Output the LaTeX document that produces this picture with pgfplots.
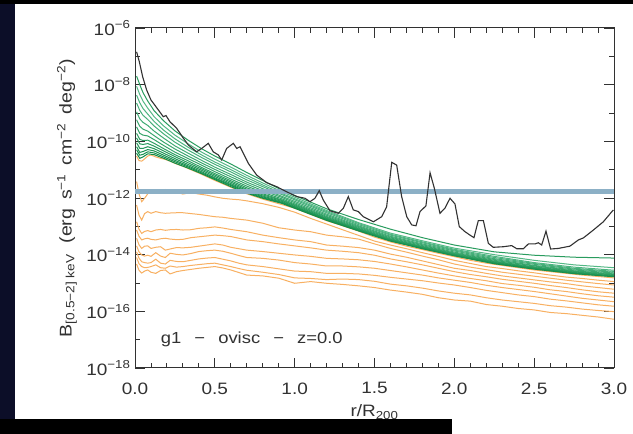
\documentclass[border=0pt]{standalone}
\usepackage{pgfplots}
\pgfplotsset{compat=1.18}
\usepackage{pgfplotstable}
\usepackage{fontspec}
\setmainfont{Liberation Sans}[FakeStretch=1.15]
\definecolor{orng}{RGB}{248,176,98}
\definecolor{gA}{RGB}{95,192,145}
\definecolor{gB}{RGB}{18,140,72}
\definecolor{band}{RGB}{140,176,198}
\definecolor{blk}{RGB}{50,50,50}
\definecolor{navy}{RGB}{12,14,40}

% green curves (log10 of brightness)
\pgfplotstableread{
x    g1     g2     g3     g4     g5     g6     g7     g8     g9     g10    g11    g12    g13
0.01 -7.70  -8.06  -8.37  -8.65  -8.96  -9.24  -9.49  -9.72  -9.88  -10.05 -10.19 -10.30 -10.42
0.03 -8.00  -8.35  -8.64  -8.91  -9.21  -9.47  -9.72  -9.93  -10.09 -10.25 -10.39 -10.49 -10.60
0.05 -8.28  -8.58  -8.84  -9.08  -9.33  -9.57  -9.78  -9.97  -10.11 -10.25 -10.36 -10.46 -10.55
0.08 -8.58  -8.83  -9.04  -9.23  -9.44  -9.64  -9.81  -9.96  -10.08 -10.19 -10.29 -10.37 -10.44
0.12 -8.92  -9.13  -9.30  -9.46  -9.64  -9.80  -9.94  -10.07 -10.17 -10.26 -10.34 -10.41 -10.47
0.18 -9.28  -9.46  -9.61  -9.74  -9.89  -10.03 -10.15 -10.26 -10.34 -10.42 -10.49 -10.55 -10.60
0.25 -9.63  -9.78  -9.91  -10.03 -10.16 -10.27 -10.38 -10.47 -10.54 -10.61 -10.67 -10.72 -10.77
0.33 -9.95  -10.08 -10.20 -10.30 -10.41 -10.51 -10.60 -10.68 -10.75 -10.81 -10.86 -10.90 -10.94
0.42 -10.27 -10.39 -10.49 -10.58 -10.68 -10.77 -10.85 -10.93 -10.98 -11.03 -11.08 -11.12 -11.15
0.50 -10.52 -10.63 -10.73 -10.81 -10.91 -10.99 -11.07 -11.14 -11.19 -11.24 -11.29 -11.32 -11.35
0.60 -10.80 -10.91 -11.00 -11.08 -11.17 -11.25 -11.33 -11.39 -11.44 -11.49 -11.53 -11.56 -11.60
0.70 -11.10 -11.20 -11.28 -11.36 -11.44 -11.51 -11.58 -11.64 -11.69 -11.73 -11.77 -11.80 -11.83
0.80 -11.38 -11.47 -11.54 -11.60 -11.67 -11.74 -11.80 -11.85 -11.89 -11.93 -11.96 -11.99 -12.01
0.92 -11.72 -11.78 -11.84 -11.88 -11.94 -11.98 -12.03 -12.07 -12.09 -12.12 -12.15 -12.17 -12.19
1.05 -12.03 -12.09 -12.14 -12.18 -12.23 -12.28 -12.32 -12.35 -12.38 -12.41 -12.43 -12.45 -12.47
1.20 -12.38 -12.44 -12.48 -12.52 -12.57 -12.61 -12.65 -12.68 -12.71 -12.73 -12.75 -12.77 -12.79
1.40 -12.76 -12.87 -12.90 -12.94 -12.98 -13.01 -13.04 -13.07 -13.09 -13.11 -13.13 -13.15 -13.16
1.60 -13.10 -13.24 -13.28 -13.31 -13.35 -13.38 -13.41 -13.44 -13.46 -13.48 -13.49 -13.51 -13.52
1.80 -13.40 -13.51 -13.55 -13.58 -13.62 -13.65 -13.68 -13.71 -13.73 -13.75 -13.76 -13.78 -13.79
2.00 -13.66 -13.77 -13.81 -13.84 -13.87 -13.91 -13.94 -13.96 -13.98 -14.00 -14.02 -14.03 -14.04
2.25 -13.90 -14.00 -14.06 -14.10 -14.14 -14.17 -14.20 -14.23 -14.25 -14.27 -14.29 -14.31 -14.32
2.50 -14.02 -14.20 -14.28 -14.31 -14.34 -14.38 -14.40 -14.43 -14.45 -14.47 -14.48 -14.50 -14.51
2.75 -14.09 -14.36 -14.44 -14.48 -14.51 -14.54 -14.57 -14.59 -14.61 -14.63 -14.65 -14.66 -14.67
3.00 -14.12 -14.46 -14.55 -14.59 -14.62 -14.65 -14.68 -14.70 -14.72 -14.74 -14.76 -14.77 -14.78
}\greentab

% orange curves (log10 of brightness)
\pgfplotstableread{
x     o1     o2     o3     o4     o5     o6     o7     o8     o9     o10
0.010 -10.52 -11.42 -12.25 -12.84 -13.13 -13.42 -13.69 -13.90 -14.10 -14.33
0.025 -10.68 -11.85 -12.60 -13.10 -13.35 -13.65 -13.90 -14.12 -14.32 -14.55
0.042 -10.70 -12.13 -12.78 -13.25 -13.48 -13.78 -14.01 -14.25 -14.42 -14.65
0.060 -10.62 -12.01 -12.55 -13.18 -13.44 -13.70 -14.05 -14.28 -14.46 -14.58
0.080 -10.52 -11.85 -12.48 -13.15 -13.42 -13.69 -14.02 -14.30 -14.45 -14.54
0.100 -10.48 -11.74 -12.54 -13.19 -13.46 -13.78 -14.06 -14.28 -14.42 -14.62
0.130 -10.55 -11.78 -12.48 -13.13 -13.48 -13.74 -13.93 -14.16 -14.36 -14.66
0.160 -10.60 -11.72 -12.52 -13.11 -13.44 -13.72 -14.05 -14.30 -14.46 -14.56
0.190 -10.64 -11.70 -12.54 -13.14 -13.42 -13.84 -14.10 -14.33 -14.48 -14.54
0.220 -10.70 -11.74 -12.53 -13.12 -13.45 -13.80 -13.95 -14.20 -14.40 -14.68
0.260 -10.80 -11.80 -12.52 -13.11 -13.47 -13.75 -13.99 -14.24 -14.44 -14.60
0.300 -10.88 -11.86 -12.52 -13.13 -13.46 -13.76 -14.01 -14.25 -14.42 -14.56
0.350 -11.00 -11.81 -12.55 -13.12 -13.40 -13.74 -13.96 -14.20 -14.38 -14.52
0.400 -11.12 -11.86 -12.58 -13.07 -13.37 -13.70 -13.89 -14.15 -14.35 -14.48
0.450 -11.25 -11.90 -12.62 -13.05 -13.34 -13.66 -13.86 -14.12 -14.32 -14.45
0.500 -11.38 -11.96 -12.66 -13.02 -13.31 -13.62 -13.84 -14.10 -14.30 -14.42
0.550 -11.50 -12.01 -12.68 -13.06 -13.33 -13.66 -13.88 -14.16 -14.36 -14.47
0.600 -11.62 -12.04 -12.72 -13.11 -13.36 -13.74 -13.95 -14.22 -14.42 -14.54
0.650 -11.74 -12.06 -12.75 -13.15 -13.42 -13.79 -14.03 -14.30 -14.49 -14.63
0.700 -11.85 -12.10 -12.78 -13.19 -13.48 -13.84 -14.10 -14.36 -14.55 -14.72
0.800 -12.04 -12.20 -12.89 -13.31 -13.54 -13.89 -14.13 -14.42 -14.62 -14.75
0.900 -12.20 -12.33 -13.05 -13.40 -13.62 -13.95 -14.19 -14.50 -14.70 -14.83
1.000 -12.36 -12.50 -13.13 -13.48 -13.69 -14.01 -14.28 -14.58 -14.82 -15.01
1.100 -12.58 -12.72 -13.19 -13.54 -13.76 -14.06 -14.33 -14.60 -14.84 -14.95
1.200 -12.80 -12.92 -13.31 -13.66 -13.84 -14.13 -14.40 -14.66 -14.88 -15.01
1.300 -12.98 -13.12 -13.37 -13.70 -13.88 -14.15 -14.40 -14.66 -14.86 -15.05
1.400 -13.17 -13.32 -13.45 -13.75 -13.93 -14.18 -14.43 -14.68 -14.88 -15.10
1.500 -13.38 -13.52 -13.62 -13.84 -14.02 -14.24 -14.48 -14.73 -14.94 -15.16
1.600 -13.55 -13.66 -13.78 -13.98 -14.15 -14.33 -14.56 -14.80 -15.04 -15.25
1.700 -13.70 -13.79 -13.91 -14.09 -14.25 -14.43 -14.64 -14.86 -15.10 -15.32
1.800 -13.82 -13.93 -14.05 -14.22 -14.36 -14.54 -14.72 -14.92 -15.18 -15.40
1.900 -13.95 -14.06 -14.18 -14.35 -14.48 -14.65 -14.82 -15.00 -15.28 -15.52
2.000 -14.07 -14.20 -14.33 -14.48 -14.60 -14.75 -14.90 -15.07 -15.36 -15.60
2.100 -14.20 -14.31 -14.44 -14.56 -14.70 -14.84 -14.98 -15.16 -15.42 -15.64
2.200 -14.30 -14.42 -14.53 -14.66 -14.78 -14.92 -15.08 -15.26 -15.52 -15.76
2.300 -14.38 -14.49 -14.62 -14.75 -14.87 -15.02 -15.16 -15.34 -15.60 -15.82
2.400 -14.46 -14.57 -14.69 -14.82 -14.94 -15.08 -15.23 -15.42 -15.66 -15.90
2.500 -14.54 -14.64 -14.76 -14.89 -15.01 -15.15 -15.30 -15.48 -15.72 -15.95
2.600 -14.60 -14.72 -14.83 -14.96 -15.09 -15.24 -15.38 -15.57 -15.80 -16.04
2.700 -14.66 -14.79 -14.90 -15.02 -15.16 -15.30 -15.46 -15.63 -15.85 -16.08
2.800 -14.72 -14.84 -14.96 -15.10 -15.24 -15.38 -15.54 -15.70 -15.92 -16.14
2.900 -14.77 -14.90 -15.02 -15.16 -15.31 -15.45 -15.60 -15.77 -15.97 -16.20
3.000 -14.82 -14.95 -15.07 -15.22 -15.36 -15.50 -15.66 -15.82 -16.01 -16.28
}\orangetab

\begin{document}
\begin{tikzpicture}[x=1pt,y=1pt]
\useasboundingbox (0,0) rectangle (633,434);
\fill[black] (0,0) rectangle (633,434);
\fill[navy] (0,0) rectangle (15,430);
\fill[white] (15,0) rectangle (633,430);
\fill[black] (0,0) rectangle (452,15);
\begin{axis}[
  at={(135pt,66pt)}, anchor=south west,
  scale only axis, width=479pt, height=340pt,
  xmin=0, xmax=3, ymin=-18, ymax=-6,
  xtick={0,0.5,1,1.5,2,2.5,3},
  xticklabels={0.0,0.5,1.0,1.5,2.0,2.5,3.0},
  minor x tick num=4,
  ytick={-18,-16,-14,-12,-10,-8,-6},
  yticklabels={10\textsuperscript{−18},10\textsuperscript{−16},10\textsuperscript{−14},10\textsuperscript{−12},10\textsuperscript{−10},10\textsuperscript{−8},10\textsuperscript{−6}},
  minor y tick num=1,
  tick align=inside,
  major tick length=10pt, minor tick length=5pt,
  axis line style={blk, line width=1pt},
  every tick/.style={blk, line width=0.9pt},
  tick label style={font=\fontsize{16.5}{19}\selectfont, text=blk},
  xticklabel style={yshift=-11pt},
  yticklabel style={xshift=-1pt},
  xlabel={r/R\textsubscript{200}},
  xlabel style={at={(axis description cs:0.5,0)}, anchor=base, yshift=-49pt, font=\fontsize{16.5}{19}\selectfont, text=blk},
  ylabel={B\textsubscript{[0.5−2] keV}\hspace{0.3em} (erg\hspace{0.2em} s\textsuperscript{−1}\hspace{0.2em} cm\textsuperscript{−2}\hspace{0.2em} deg\textsuperscript{−2})},
  ylabel style={at={(axis description cs:-0.142,0.5)}, anchor=center, font=\fontsize{17}{20}\selectfont, text=blk},
]
% orange curves
\addplot[orng, line width=1pt] table[x=x,y=o10]{\orangetab};
\addplot[orng, line width=1pt] table[x=x,y=o9]{\orangetab};
\addplot[orng, line width=1pt] table[x=x,y=o8]{\orangetab};
\addplot[orng, line width=1pt] table[x=x,y=o7]{\orangetab};
\addplot[orng, line width=1pt] table[x=x,y=o6]{\orangetab};
\addplot[orng, line width=1pt] table[x=x,y=o5]{\orangetab};
\addplot[orng, line width=1pt] table[x=x,y=o4]{\orangetab};
\addplot[orng, line width=1pt] table[x=x,y=o3]{\orangetab};
\addplot[orng, line width=1pt] table[x=x,y=o2]{\orangetab};
\addplot[orng, line width=1pt] table[x=x,y=o1]{\orangetab};
% green curves
\addplot[gB, line width=1pt] table[x=x,y=g13]{\greentab};
\addplot[gB!94!gA, line width=1pt] table[x=x,y=g12]{\greentab};
\addplot[gB!88!gA, line width=1pt] table[x=x,y=g11]{\greentab};
\addplot[gB!80!gA, line width=1pt] table[x=x,y=g10]{\greentab};
\addplot[gB!72!gA, line width=1pt] table[x=x,y=g9]{\greentab};
\addplot[gB!64!gA, line width=1pt] table[x=x,y=g8]{\greentab};
\addplot[gB!56!gA, line width=1pt] table[x=x,y=g7]{\greentab};
\addplot[gB!48!gA, line width=1pt] table[x=x,y=g6]{\greentab};
\addplot[gB!40!gA, line width=1pt] table[x=x,y=g5]{\greentab};
\addplot[gB!32!gA, line width=1pt] table[x=x,y=g4]{\greentab};
\addplot[gB!24!gA, line width=1pt] table[x=x,y=g3]{\greentab};
\addplot[gB!16!gA, line width=1pt] table[x=x,y=g2]{\greentab};
\addplot[gB!70!gA, line width=1pt] table[x=x,y=g1]{\greentab};
% sensitivity band
\addplot[band, line width=5pt] coordinates {(0,-11.77) (3,-11.77)};
% total emission
\addplot[blk, line width=1.1pt] coordinates {
(0.010,-6.84) (0.027,-7.19) (0.048,-7.72) (0.073,-8.19) (0.100,-8.54)
(0.146,-8.89) (0.177,-9.13) (0.194,-9.09) (0.219,-9.31) (0.261,-9.54)
(0.303,-9.89) (0.334,-10.13) (0.386,-10.37) (0.418,-10.25) (0.459,-10.07)
(0.490,-10.37) (0.522,-10.48) (0.543,-10.66) (0.574,-10.25) (0.616,-10.07)
(0.637,-10.25) (0.658,-10.19) (0.710,-10.78) (0.762,-11.19) (0.825,-11.46)
(0.887,-11.60) (0.950,-11.78) (1.013,-11.95) (1.065,-12.01) (1.096,-12.13)
(1.127,-12.01) (1.154,-11.74) (1.179,-12.07) (1.221,-12.45) (1.273,-12.54)
(1.305,-12.36) (1.336,-11.95) (1.367,-12.42) (1.399,-12.48) (1.430,-12.66)
(1.493,-12.84) (1.545,-12.66) (1.576,-12.31) (1.608,-10.74) (1.639,-10.84)
(1.670,-11.95) (1.702,-12.66) (1.733,-12.95) (1.760,-12.98) (1.785,-12.48)
(1.822,-12.28) (1.848,-11.11) (1.875,-11.66) (1.910,-12.54) (1.941,-12.36)
(1.973,-12.01) (2.004,-12.21) (2.031,-13.01) (2.067,-13.19) (2.098,-13.31)
(2.123,-13.40) (2.150,-12.80) (2.182,-12.80) (2.213,-13.60) (2.244,-13.74)
(2.307,-13.72) (2.359,-13.68) (2.391,-13.79) (2.432,-13.79) (2.464,-13.62)
(2.506,-13.62) (2.526,-13.58) (2.547,-13.66) (2.574,-13.17) (2.603,-13.80)
(2.651,-13.78) (2.724,-13.70) (2.777,-13.48) (2.808,-13.41) (2.871,-13.13)
(2.933,-12.84) (2.996,-12.42)};
\node[anchor=west, font=\fontsize{16}{19}\selectfont, text=blk] at (axis cs:0.14,-17.0) {g1\hspace{0.5em} − \hspace{0.5em}ovisc\hspace{0.5em} − \hspace{0.5em}z=0.0};
\end{axis}
\end{tikzpicture}
\end{document}
